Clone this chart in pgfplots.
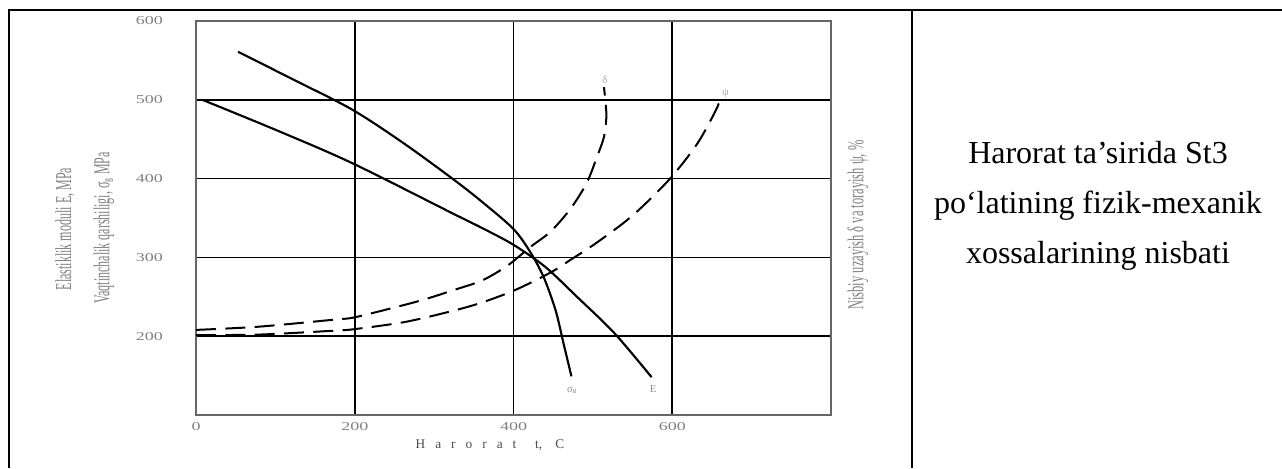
\documentclass[border=0pt]{standalone}
\usepackage{fontspec}
\setmainfont{Liberation Serif}
\usepackage{graphicx}
\usepackage{pgfplots}
\pgfplotsset{compat=1.18}

% sigma_v (vaqtinchalik qarshilik)
\pgfplotstableread{
x y
53 561
120 527
196 488
260 446
323 400
361 370
400 336
421 307
438 275
453 233
463 191
473 149
}\sigmadata
% E modul
\pgfplotstableread{
x y
8 500
100 462
196 420
323 356
361 337
400 316
440 288
480 250
527 204
574 148
}\Edata
% delta
\pgfplotstableread{
x y
0 208
78 212
174 221
200 224
256 238
289 247
323 258
361 271
393 290
421 313
447 333
472 362
492 394
505 427
514 453
517 478
516 496
514 516
}\deltadata
% psi
\pgfplotstableread{
x y
0 201.5
78 202
174 207
200 209
263 218
323 232
361 243
403 259
447 281
472 297
501 316
539 344
565 367
599 402
632 445
657 491
658 500
}\psidata

\begin{document}
\begin{tikzpicture}
\useasboundingbox (0,0) rectangle (961.5pt,351pt);
\begin{scope}[x=0.75pt,y=-0.75pt,shift={(0pt,351pt)}]
  % table borders
  \draw[line width=1.5pt] (9,9.5) -- (9,468);
  \draw[line width=1.8pt] (8.3,10) -- (50,10);
  \draw[line width=1pt] (50,10) -- (873,10);
  \draw[line width=1.8pt] (873,10) -- (1282,10);
  \draw[line width=2pt] (912,10) -- (912,468);
  % right text
  \node[align=center, font=\fontsize{24}{37.5}\selectfont] at (1098,206)
    {Harorat ta’sirida St3\\po‘latining fizik-mexanik\\xossalarining nisbati};
  % left axis labels
  \node[rotate=90, text=black!50, font=\fontsize{17}{19}\selectfont] at (65,229)
    {\scalebox{0.53}[1]{Elastiklik moduli E, MPa}};
  \node[rotate=90, text=black!50, font=\fontsize{17}{19}\selectfont] at (104,228)
    {\scalebox{0.53}[1]{Vaqtinchalik qarshiligi, σ\textsubscript{в} MPa}};
  % right axis label
  \node[rotate=90, text=black!50, font=\fontsize{17}{19}\selectfont] at (858,225)
    {\scalebox{0.55}[1]{Nisbiy uzayish δ va torayish ψ, \%}};
  % x label
  \node[text=black!70, font=\fontsize{10}{12}\selectfont] at (490,445)
    {{\addfontfeature{LetterSpace=75}Harorat}\hspace{14pt}t,\hspace{10pt}C};
\end{scope}

\begin{axis}[
  scale only axis, width=476.25pt, height=295.5pt,
  at={(147pt,39.75pt)}, anchor=south west,
  xmin=0, xmax=800, ymin=100, ymax=600,
  xtick={0,200,400,600}, ytick={200,300,400,500,600},
  grid=major, major grid style={black, line width=1.2pt},
  tick style={draw=none},
  axis line style={black!60, line width=1.3pt},
  /pgf/number format/assume math mode=true,
  tick label style={font=\fontsize{9}{10}\selectfont, text=black!50, xscale=1.5},
  xticklabel style={yshift=-2pt},
  yticklabel style={xshift=-13pt},
  clip=false,
]
\addplot[black, line width=1.6pt, smooth, no markers] table[x=x,y=y] {\sigmadata};
\addplot[black, line width=1.6pt, smooth, no markers] table[x=x,y=y] {\Edata};
\addplot[black, line width=1.5pt, smooth, no markers, dash pattern=on 15pt off 7pt] table[x=x,y=y] {\deltadata};
\addplot[black, line width=1.5pt, smooth, no markers, dash pattern=on 15pt off 7pt] table[x=x,y=y] {\psidata};
\node[text=black!45, font=\fontsize{8}{9}\selectfont, anchor=north] at (axis cs:474,142) {σ\textsubscript{в}};
\node[text=black!45, font=\fontsize{8}{9}\selectfont, anchor=north] at (axis cs:576,144) {E};
\node[text=black!35, font=\fontsize{8}{9}\selectfont, anchor=south] at (axis cs:515,515) {δ};
\node[text=black!35, font=\fontsize{8}{9}\selectfont, anchor=south west] at (axis cs:657,497) {ψ};
\end{axis}
\end{tikzpicture}
\end{document}
